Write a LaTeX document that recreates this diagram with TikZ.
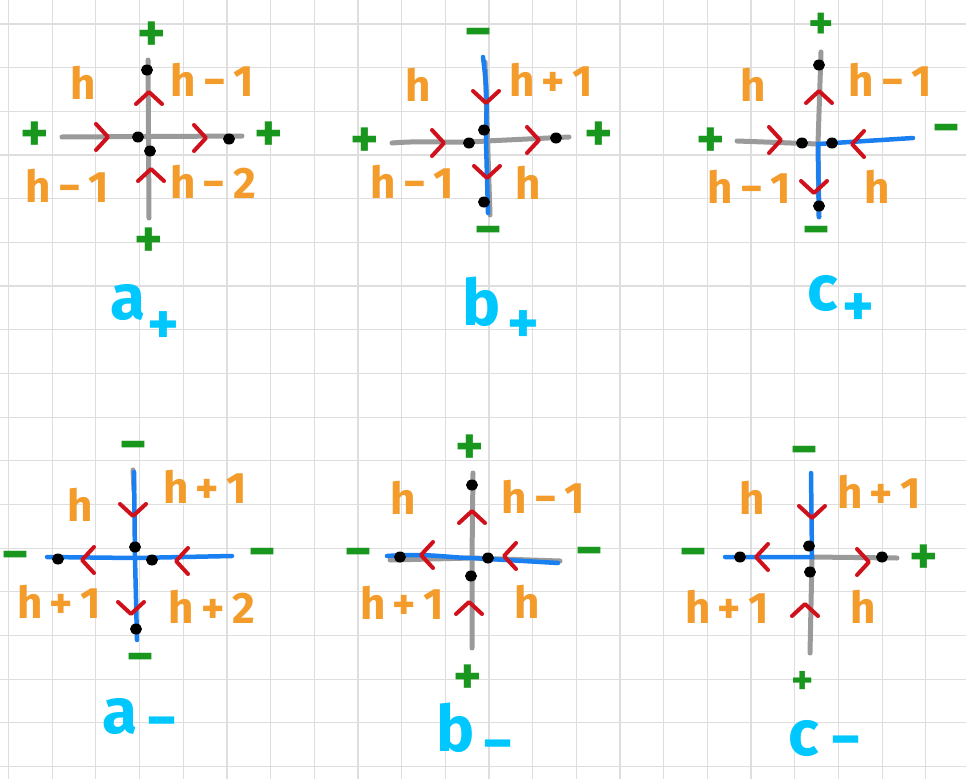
\documentclass[tikz,border=0pt]{standalone}
\usepackage{fontspec}
\setmainfont{Fira Sans}
\definecolor{gridc}{HTML}{DEDEDE}
\definecolor{edgegray}{HTML}{9A9A9A}
\definecolor{edgeblue}{HTML}{1A80F2}
\definecolor{arrred}{HTML}{D0101A}
\definecolor{signgreen}{HTML}{18961E}
\definecolor{horange}{HTML}{F39C2B}
\definecolor{labcyan}{HTML}{00C8FF}
\tikzset{
 grayedge/.style={draw=edgegray,line width=5pt,line cap=round},
 blueedge/.style={draw=edgeblue,line width=4.5pt,line cap=round},
 gridline/.style={draw=gridc,line width=1.2pt},
 dotnode/.style={ellipse,fill=black,inner sep=0pt,minimum width=12pt,minimum height=11pt},
 sign/.style={text=signgreen,font=\fontsize{54}{54}\selectfont\bfseries,inner sep=0pt},
 smallsign/.style={sign,font=\fontsize{42}{42}\selectfont\bfseries},
 hlab/.style={text=horange,font=\fontsize{44}{44}\selectfont\bfseries,inner sep=0pt},
 namelab/.style={text=labcyan,font=\fontsize{64}{64}\selectfont\bfseries,inner sep=0pt},
 sublab/.style={text=labcyan,font=\fontsize{60}{60}\selectfont\bfseries,inner sep=0pt},
 chev/.pic={\draw[draw=arrred,line width=4pt,line cap=round,line join=round] (-6,-13)--(6,0)--(-6,13);}
}
\usetikzlibrary{shapes.geometric}
\begin{document}
\begin{tikzpicture}[x=1pt,y=-1pt]
\useasboundingbox (0,0) rectangle (966,779);
\fill[white] (0,0) rectangle (966,779);
% grid
\foreach \k in {0,...,21} \draw[gridline] ({8.5+43.68*\k},0) -- ({8.5+43.68*\k},779);
\foreach \k in {0,...,17} \draw[gridline] (0,{24+43.68*\k}) -- (966,{24+43.68*\k});

% ================= a+ =================
\coordinate (apT) at (148,60); \coordinate (apB) at (149,218);
\coordinate (apL) at (62,137); \coordinate (apR) at (242,136);
\draw[grayedge] (apL) -- (apR);
\draw[grayedge] (apT) -- (apB);
\pic at (102,137) {chev}; \pic at (200,138) {chev};
\pic[rotate=90] at (149,98) {chev}; \pic[rotate=90] at (151,175) {chev};
\node[dotnode] (apd1) at (147,70) {}; \node[dotnode] (apd2) at (138,137) {};
\node[dotnode] (apd3) at (150,151) {}; \node[dotnode] (apd4) at (229,139) {};
\node[sign] (aps1) at (152,37) {+}; \node[sign] (aps2) at (35,137) {+};
\node[sign] (aps3) at (269,137) {+}; \node[sign] (aps4) at (149,243) {+};
\node[hlab] (aph1) at (83,83) {h}; \node[hlab] (aph2) at (212,80) {h\,−\,1};
\node[hlab] (aph3) at (67,186) {h\,−\,1}; \node[hlab] (aph4) at (213,182) {h\,−\,2};
\node[namelab] (apn) at (128,303) {a}; \node[sublab] (aps) at (163,328) {+};

% ================= b+ =================
\coordinate (bpT) at (483,57); \coordinate (bpB) at (488,213);
\coordinate (bpL) at (392,143); \coordinate (bpR) at (569,137);
\coordinate (bpC) at (486,141);
\draw[grayedge] (bpL) .. controls (430,140) and (450,144) .. (bpC) -- (bpR);
\draw[grayedge] (485,62) -- (490,215);
\draw[blueedge] (bpT) .. controls (487,90) .. (bpC) -- (bpB);
\pic at (438,143) {chev}; \pic at (533,140) {chev};
\pic[rotate=-90] at (486,97) {chev}; \pic[rotate=-90] at (487,172) {chev};
\node[dotnode] (bpd1) at (484,130) {}; \node[dotnode] (bpd2) at (469,143) {};
\node[dotnode] (bpd3) at (556,138) {}; \node[dotnode] (bpd4) at (484,202) {};
\node[sign] (bps1) at (479,39) {−}; \node[sign] (bps2) at (365,143) {+};
\node[sign] (bps3) at (599,137) {+}; \node[sign] (bps4) at (489,237) {−};
\node[hlab] (bph1) at (418,85) {h}; \node[hlab] (bph2) at (551,80) {h\,+\,1};
\node[hlab] (bph3) at (412,182) {h\,−\,1}; \node[hlab] (bph4) at (528,183) {h};
\node[namelab] (bpn) at (482,302) {b}; \node[sublab] (bps) at (523,327) {+};

% ================= c+ =================
\coordinate (cpT) at (821,52); \coordinate (cpB) at (819,217);
\coordinate (cpL) at (737,141); \coordinate (cpR) at (913,138);
\coordinate (cpC) at (818,144);
\draw[grayedge] (cpT) -- (cpC); \draw[grayedge] (cpL) -- (cpC);
\draw[grayedge] (cpC) -- (cpB);
\draw[blueedge] (cpR) -- (cpC) -- (cpB);
\pic[rotate=90] at (819,97) {chev}; \pic at (775,140) {chev};
\pic[rotate=180] at (858,144) {chev}; \pic[rotate=-90] at (814,187) {chev};
\node[dotnode] (cpd1) at (819,65) {}; \node[dotnode] (cpd2) at (802,143) {};
\node[dotnode] (cpd3) at (832,143) {}; \node[dotnode] (cpd4) at (819,206) {};
\node[smallsign,font=\fontsize{48}{48}\selectfont\bfseries] (cps1) at (821,26) {+}; \node[sign] (cps2) at (711,143) {+};
\node[sign] (cps3) at (947,135) {−}; \node[sign] (cps4) at (817,237) {−};
\node[hlab] (cph1) at (753,85) {h}; \node[hlab] (cph2) at (890,80) {h\,−\,1};
\node[hlab] (cph3) at (749,187) {h\,−\,1}; \node[hlab] (cph4) at (877,187) {h};
\node[namelab] (cpn) at (823,294) {c}; \node[sublab] (cps) at (858,310) {+};

% ================= a- =================
\coordinate (amT) at (134,472); \coordinate (amB) at (137,640);
\coordinate (amL) at (47,557); \coordinate (amR) at (232,556);
\coordinate (amC) at (135,558);
\draw[grayedge] (133,470) -- (134,490);
\draw[blueedge] (amT) -- (amC) -- (amB);
\draw[blueedge] (amL) -- (amC) -- (amR);
\pic[rotate=-90] at (133,510) {chev}; \pic[rotate=180] at (88,560) {chev};
\pic[rotate=180] at (182,561) {chev}; \pic[rotate=-90] at (131,608) {chev};
\node[dotnode] (amd1) at (135,547) {}; \node[dotnode] (amd2) at (58,559) {};
\node[dotnode] (amd3) at (152,560) {}; \node[dotnode] (amd4) at (136,629) {};
\node[sign] (ams1) at (134,452) {−}; \node[sign] (ams2) at (16,562) {−};
\node[sign] (ams3) at (263,559) {−}; \node[sign] (ams4) at (141,664) {−};
\node[hlab] (amh1) at (80,505) {h}; \node[hlab] (amh2) at (205,487) {h\,+\,1};
\node[hlab] (amh3) at (59,602) {h\,+\,1}; \node[hlab] (amh4) at (212,607) {h\,+\,2};
\node[namelab] (amn) at (120,716) {a}; \node[sublab] (ams) at (162,729) {−};

% ================= b- =================
\coordinate (bmT) at (473,473); \coordinate (bmB) at (472,648);
\coordinate (bmL) at (387,556); \coordinate (bmR) at (558,563);
\coordinate (bmC) at (472,558);
\draw[grayedge] (bmT) -- (bmC) -- (bmB);
\draw[grayedge] (390,560) -- (bmC) -- (560,561);
\draw[blueedge] (bmL) .. controls (430,553) and (450,558) .. (bmC) -- (bmR);
\pic[rotate=90] at (472,517) {chev}; \pic[rotate=180] at (427,555) {chev};
\pic[rotate=180] at (510,556) {chev}; \pic[rotate=90] at (469,608) {chev};
\node[dotnode] (bmd1) at (472,485) {}; \node[dotnode] (bmd2) at (400,557) {};
\node[dotnode] (bmd3) at (488,558) {}; \node[dotnode] (bmd4) at (471,576) {};
\node[sign] (bms1) at (470,450) {+}; \node[sign] (bms2) at (359,559) {−};
\node[sign] (bms3) at (590,558) {−}; \node[sign] (bms4) at (468,680) {+};
\node[hlab] (bmh1) at (403,498) {h}; \node[hlab] (bmh2) at (543,497) {h\,−\,1};
\node[hlab] (bmh3) at (402,603) {h\,+\,1}; \node[hlab] (bmh4) at (527,602) {h};
\node[namelab] (bmn) at (456,728) {b}; \node[sublab] (bms) at (498,752) {−};

% ================= c- =================
\coordinate (cmT) at (811,473); \coordinate (cmB) at (810,653);
\coordinate (cmL) at (725,557); \coordinate (cmR) at (897,558);
\coordinate (cmC) at (812,557);
\draw[grayedge] (cmC) -- (cmB); \draw[grayedge] (cmC) -- (cmR);
\draw[blueedge] (cmT) -- (cmC) -- (cmL);
\pic[rotate=-90] at (812,512) {chev}; \pic[rotate=180] at (762,557) {chev};
\pic at (863,562) {chev}; \pic[rotate=90] at (805,610) {chev};
\node[dotnode] (cmd1) at (809,546) {}; \node[dotnode] (cmd2) at (740,557) {};
\node[dotnode] (cmd3) at (810,572) {}; \node[dotnode] (cmd4) at (882,557) {};
\node[sign] (cms1) at (805,457) {−}; \node[sign] (cms2) at (694,559) {−};
\node[sign] (cms3) at (924,560) {+}; \node[smallsign] (cms4) at (803,683) {+};
\node[hlab] (cmh1) at (752,498) {h}; \node[hlab] (cmh2) at (879,492) {h\,+\,1};
\node[hlab] (cmh3) at (727,607) {h\,+\,1}; \node[hlab] (cmh4) at (863,607) {h};
\node[namelab] (cmn) at (804,738) {c}; \node[sublab] (cms) at (846,748) {−};
\end{tikzpicture}
\end{document}
